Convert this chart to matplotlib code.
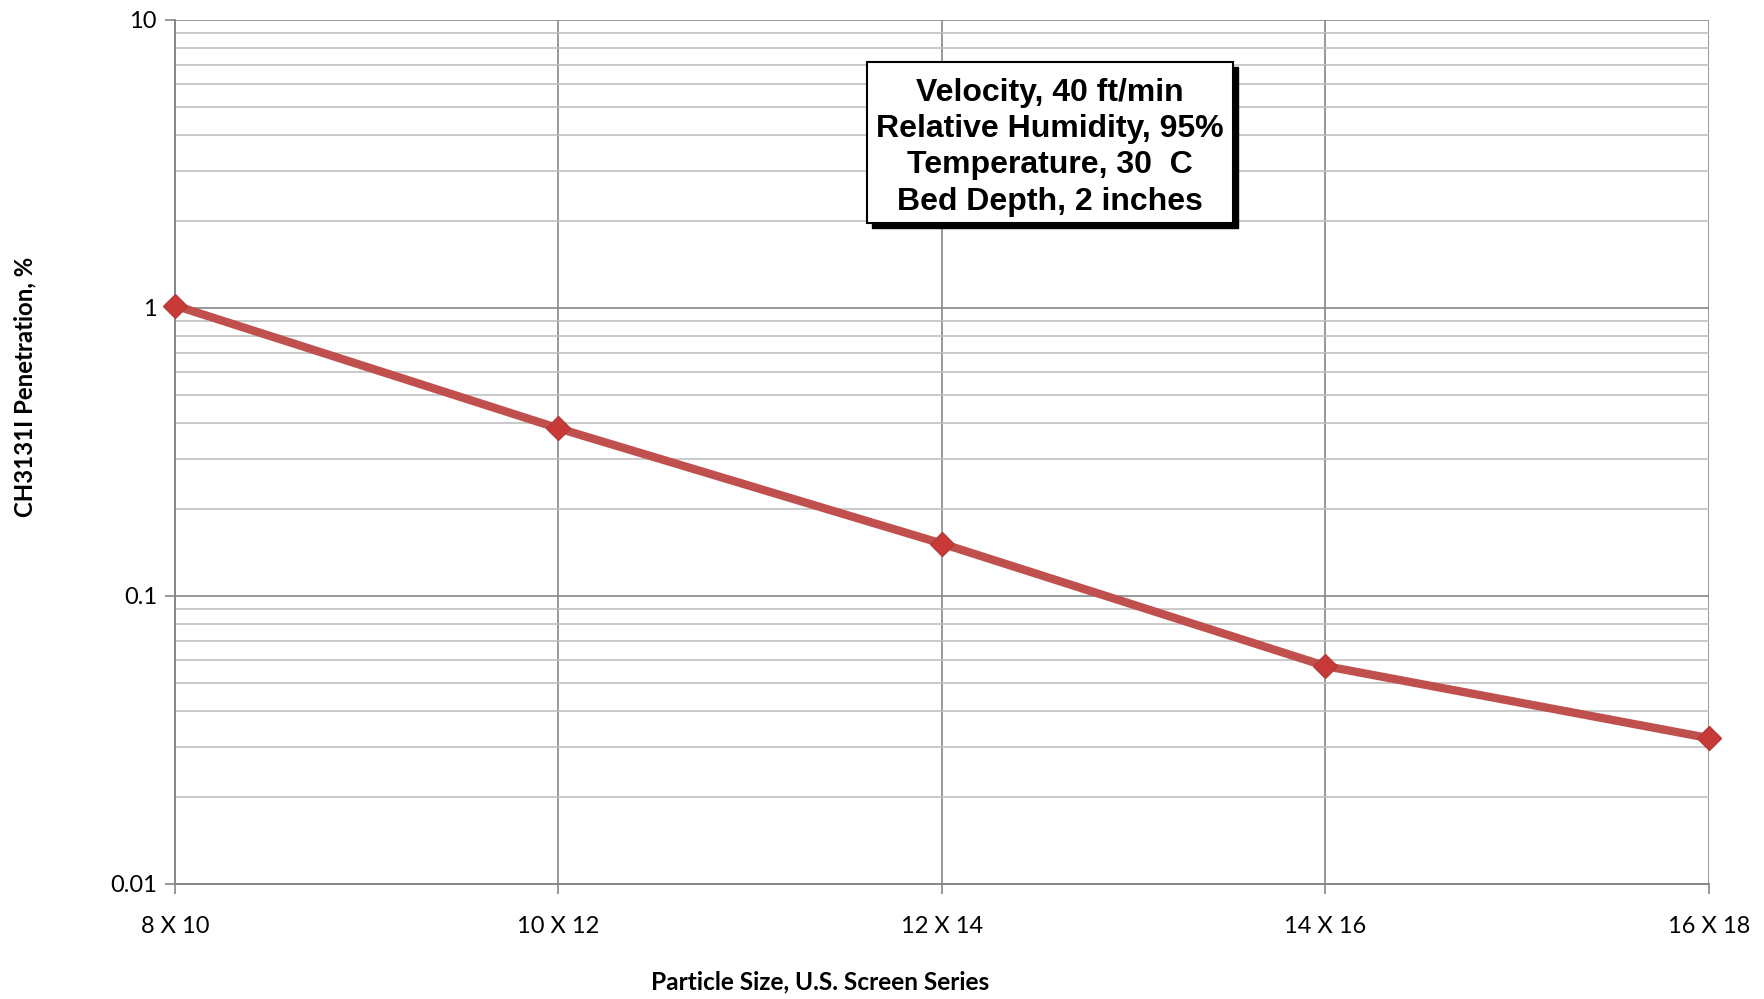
import numpy as np
import matplotlib
matplotlib.use('Agg')
import matplotlib.pyplot as plt
from matplotlib.ticker import LogLocator, NullFormatter, FixedLocator
from matplotlib.patches import Rectangle

# ---------------------------------------------------------------------------
# Data
# ---------------------------------------------------------------------------
sizes = ['8 X 10', '10 X 12', '12 X 14', '14 X 16', '16 X 18']
penetration = [1.02, 0.382, 0.152, 0.0571, 0.0321]
y_ticks = [0.01, 0.1, 1, 10]
y_tick_labels = ['0.01', '0.1', '1', '10']
box_lines = ['Velocity, 40 ft/min', 'Relative Humidity, 95%',
             'Temperature, 30  C', 'Bed Depth, 2 inches']

LINE_RED = '#c0504d'
MAJOR_GREY = '#868686'
MINOR_GREY = '#c0c0c0'
W, H = 1765, 999

fig = plt.figure(figsize=(W / 100, H / 100), dpi=100)
ax = fig.add_axes([175 / W, 1 - 884 / H, (1709 - 175) / W, (884 - 20) / H])

x = np.arange(len(sizes))
ax.plot(x, penetration, color=LINE_RED, linewidth=6, marker='D',
        markersize=12.5, markerfacecolor='#c83a37', markeredgecolor='#b33a37',
        zorder=5, clip_on=False)

ax.set_yscale('log')
ax.set_ylim(0.01, 10)
ax.set_xlim(0, len(sizes) - 1)

ax.yaxis.set_major_locator(FixedLocator(y_ticks))
ax.set_yticklabels(y_tick_labels)
ax.yaxis.set_minor_locator(LogLocator(base=10, subs=np.arange(2, 10)))
ax.yaxis.set_minor_formatter(NullFormatter())
ax.set_xticks(x)
ax.set_xticklabels(sizes)

ax.grid(True, which='major', color=MAJOR_GREY, linewidth=1.2)
ax.grid(True, which='minor', axis='y', color=MINOR_GREY, linewidth=1.2)
ax.set_axisbelow(True)

for side in ['top', 'right']:
    ax.spines[side].set_visible(False)
for side in ['left', 'bottom']:
    ax.spines[side].set_color(MAJOR_GREY)
    ax.spines[side].set_linewidth(1.4)

ax.tick_params(axis='y', which='major', direction='out', length=7,
               color=MAJOR_GREY, width=1.2, labelsize=17, pad=6)
ax.tick_params(axis='y', which='minor', length=0)
ax.tick_params(axis='x', which='major', direction='out', length=7,
               color=MAJOR_GREY, width=1.2, labelsize=17, pad=16)
for lab in ax.get_xticklabels() + ax.get_yticklabels():
    lab.set_family('Lato')

# axis titles, placed where the reference has them
fig.text(820 / W, 1 - 982 / H, 'Particle Size, U.S. Screen Series',
         ha='center', va='center', fontsize=17.6, fontweight='bold',
         family='Lato')
fig.text(25 / W, 1 - 387 / H, 'CH3131I Penetration, %', rotation=90,
         ha='center', va='center', fontsize=17.3, fontweight='bold',
         family='Lato')

# Annotation box with drop shadow
bx0, by0, bx1, by1 = 867, 62, 1233, 223
w = (bx1 - bx0) / W
h = (by1 - by0) / H
left = bx0 / W
bottom = 1 - by1 / H
shadow = Rectangle((left + 5 / W, bottom - 5 / H), w, h,
                   transform=fig.transFigure, facecolor='black',
                   edgecolor='black', zorder=10)
box = Rectangle((left, bottom), w, h, transform=fig.transFigure,
                facecolor='white', edgecolor='black', linewidth=1.5,
                zorder=11)
fig.patches.extend([shadow, box])
line_y = [92.5, 128.5, 164.5, 201.5]
for txt, yy in zip(box_lines, line_y):
    fig.text(1050 / W, 1 - yy / H, txt, ha='center', va='center',
             fontsize=23, fontweight='bold', family='Liberation Sans',
             zorder=12)

fig.savefig('out.png', dpi=100)
